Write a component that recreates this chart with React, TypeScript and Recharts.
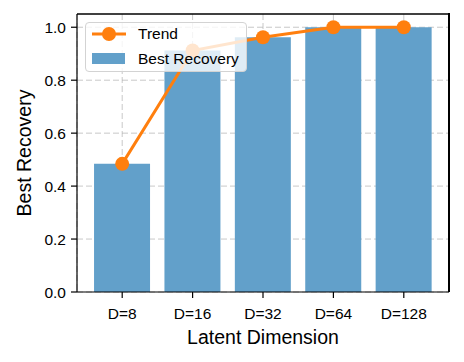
import React from 'react';
import {
  ComposedChart,
  Bar,
  Line,
  XAxis,
  YAxis,
  CartesianGrid,
  Legend,
  ReferenceLine,
} from 'recharts';

const dims = ['D=8', 'D=16', 'D=32', 'D=64', 'D=128'];
const bestRecovery = [0.484, 0.912, 0.962, 1.0, 1.0];
const trend = [0.484, 0.912, 0.962, 1.0, 1.0];
const yTicks = [0, 0.2, 0.4, 0.6, 0.8, 1.0];
const yMax = 1.05;

const data = dims.map((d, i) => ({ name: d, recovery: bestRecovery[i], trend: trend[i] }));

const FONT = '"Liberation Sans", Arial, Helvetica, sans-serif';
const BLUE = '#62a0ca';
const ORANGE = '#ff7f0e';
const axisStroke = { stroke: '#000', strokeWidth: 1.2 };

// plot box margins
const M = { top: 14, right: 15, left: 77, bottom: 70 };
const W = 464;
const H = 362;

const LegendBox = () => (
  <div
    style={{
      width: 160,
      height: 48,
      border: '1px solid #d3d3d3',
      borderRadius: 4,
      background: 'rgba(255,255,255,0.8)',
      position: 'relative',
      fontFamily: FONT,
      fontSize: 15.5,
      color: '#000',
    }}
  >
    <svg width={40} height={48} style={{ position: 'absolute', left: 0, top: 0 }}>
      <line x1={6} y1={11} x2={40} y2={11} stroke={ORANGE} strokeWidth={3} />
      <circle cx={23} cy={11} r={7} fill={ORANGE} />
      <rect x={6} y={30} width={33} height={11} fill={BLUE} />
    </svg>
    <div style={{ position: 'absolute', left: 52, top: 1, lineHeight: '20px' }}>Trend</div>
    <div style={{ position: 'absolute', left: 52, top: 26, lineHeight: '20px' }}>Best Recovery</div>
  </div>
);

export default function App() {
  return (
    <div style={{ position: 'relative', margin: -8, width: W, height: H }}>
      <ComposedChart
        width={W}
        height={H}
        data={data}
        margin={{ top: M.top, right: M.right, left: 0, bottom: 0 }}
        barCategoryGap="10%"
      >
        <XAxis
          dataKey="name"
          height={M.bottom}
          padding={{ left: 10, right: 10 }}
          tick={{ fill: '#000', fontSize: 15.5, fontFamily: FONT }}
          tickSize={6}
          tickMargin={10}
          tickLine={axisStroke}
          axisLine={axisStroke}
          label={{
            value: 'Latent Dimension',
            position: 'insideTop',
            offset: 38,
            style: { fill: '#000', fontSize: 19.5, fontFamily: FONT },
          }}
        />
        <YAxis
          width={M.left}
          domain={[0, yMax]}
          ticks={yTicks}
          tickFormatter={(v: number) => v.toFixed(1)}
          tick={{ fill: '#000', fontSize: 15.5, fontFamily: FONT }}
          tickSize={6}
          tickMargin={5}
          tickLine={axisStroke}
          axisLine={axisStroke}
          label={{
            value: 'Best Recovery',
            angle: -90,
            position: 'insideLeft',
            offset: 24,
            textAnchor: 'middle',
            style: { fill: '#000', fontSize: 19.5, fontFamily: FONT, textAnchor: 'middle' },
          }}
        />
        <Bar dataKey="recovery" name="Best Recovery" fill={BLUE} isAnimationActive={false} />
        <CartesianGrid
          stroke="#b0b0b0"
          strokeOpacity={0.7}
          strokeDasharray="6 3"
          horizontalValues={yTicks}
        />
        {/* top spine */}
        <ReferenceLine y={yMax} stroke="#000" strokeWidth={1.5} ifOverflow="extendDomain" />
        <Line
          dataKey="trend"
          name="Trend"
          stroke={ORANGE}
          strokeWidth={3}
          dot={{ r: 7, fill: ORANGE, stroke: ORANGE, strokeWidth: 0 }}
          activeDot={false}
          isAnimationActive={false}
        />
        <Legend
          layout="vertical"
          align="center"
          verticalAlign="middle"
          wrapperStyle={{ left: 85, top: 22, width: 162, height: 50 }}
          content={() => <LegendBox />}
        />
      </ComposedChart>
      {/* right spine */}
      <div
        style={{
          position: 'absolute',
          left: W - M.right - 1,
          top: M.top - 1,
          width: 2,
          height: H - M.top - M.bottom + 1,
          background: '#000',
          zIndex: 10,
        }}
      />
    </div>
  );
}
